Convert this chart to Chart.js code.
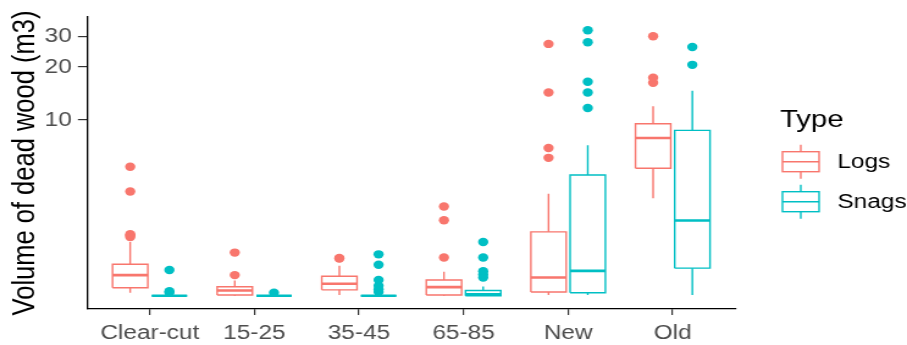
<!DOCTYPE html>
<html>
<head>
<meta charset="utf-8">
<style>
  html, body { margin: 0; padding: 0; background: #fff; overflow: hidden; }
</style>
</head>
<body>
<!-- the reference is stretched sideways, so the canvas is drawn narrower and scaled up by css -->
<canvas id="chart" width="743" height="345" style="width:907px;height:345px"></canvas>

<script src="https://cdn.jsdelivr.net/npm/chart.js"></script>

<script>
  const CATEGORIES = ['Clear-cut', '15-25', '35-45', '65-85', 'New', 'Old'];
  const TYPES = ['Logs', 'Snags'];
  const Y_TICKS = [10, 20, 30];

  // box stats (m3, log axis)
  const LOGS_LOW  = [1.04, 1.00, 1.01, 1.00, 1.01, 3.59];
  const LOGS_Q1   = [1.11, 1.01, 1.08, 1.01, 1.05, 5.31];
  const LOGS_MED  = [1.31, 1.07, 1.17, 1.12, 1.27, 7.90];
  const LOGS_Q3   = [1.51, 1.125, 1.29, 1.23, 2.31, 9.52];
  const LOGS_HIGH = [2.02, 1.22, 1.48, 1.37, 3.80, 11.96];
  const LOGS_OUT  = [
    [2.16, 2.20, 2.24, 3.92, 5.42],
    [1.31, 1.76],
    [1.63, 1.64],
    [1.65, 2.69, 3.22],
    [6.09, 6.93, 14.35, 27.1],
    [16.3, 17.4, 29.96]
  ];

  const SNAGS_LOW  = [1.00, 1.00, 1.00, 1.00, 1.01, 1.01];
  const SNAGS_Q1   = [1.00, 1.00, 1.00, 1.00, 1.04, 1.435];
  const SNAGS_MED  = [1.00, 1.00, 1.00, 1.02, 1.385, 2.68];
  const SNAGS_Q3   = [1.00, 1.00, 1.00, 1.07, 4.86, 8.73];
  const SNAGS_HIGH = [1.00, 1.00, 1.00, 1.13, 7.18, 14.67];
  const SNAGS_OUT  = [
    [1.04, 1.06, 1.40],
    [1.04],
    [1.05, 1.09, 1.14, 1.23, 1.50, 1.72],
    [1.27, 1.32, 1.38, 1.65, 2.02],
    [11.7, 14.35, 16.5, 27.7, 32.4],
    [20.6, 26.0]
  ];

  const LOGS_COLOR = '#F8766D';
  const SNAGS_COLOR = '#00BFC4';
  const FONT = '"Liberation Sans", Arial, sans-serif';
  const DODGE = 0.1875;   // ggplot dodge 0.75 / 4
  const HALF = 0.16875;   // half box width

  function box_datasets(name, color, offset, low, q1, med, q3, high, out) {
    const box = [], whisk = [], mid = [], pts = [];
    CATEGORIES.forEach((c, i) => {
      const xc = i + 1 + offset, xl = xc - HALF, xr = xc + HALF;
      box.push({x: xl, y: q1[i]}, {x: xl, y: q3[i]}, {x: xr, y: q3[i]}, {x: xr, y: q1[i]}, {x: xl, y: q1[i]}, {x: xc, y: null});
      whisk.push({x: xc, y: q3[i]}, {x: xc, y: high[i]}, {x: xc, y: null}, {x: xc, y: q1[i]}, {x: xc, y: low[i]}, {x: xc, y: null});
      mid.push({x: xl, y: med[i]}, {x: xr, y: med[i]}, {x: xc, y: null});
      out[i].forEach(v => pts.push({x: xc, y: v}));
    });
    const line = {showLine: true, pointRadius: 0, borderColor: color, fill: false, spanGaps: false};
    return [
      {...line, label: name + ' whiskers', data: whisk, borderWidth: 1.4},
      {...line, label: name + ' box', data: box, borderWidth: 1.4, borderJoinStyle: 'miter'},
      {...line, label: name + ' median', data: mid, borderWidth: 2.6},
      {label: name + ' outliers', data: pts, showLine: false, pointRadius: 4.2,
       pointBackgroundColor: color, pointBorderWidth: 0, backgroundColor: color}
    ];
  }

  // y limits: data range widened 5% on the log scale, like ggplot
  const all_values = [LOGS_LOW, LOGS_HIGH, SNAGS_LOW, SNAGS_HIGH, LOGS_OUT.flat(), SNAGS_OUT.flat()].flat();
  const lmin = Math.log(Math.min(...all_values));
  const lmax = Math.log(Math.max(...all_values));
  const y_min = Math.exp(lmin - 0.05 * (lmax - lmin));
  const y_max = Math.exp(lmax + 0.05 * (lmax - lmin));

  const legend_plugin = {
    id: 'typeLegend',
    afterDraw(chart) {
      const ctx = chart.ctx;
      ctx.save();
      ctx.fillStyle = '#000';
      ctx.font = '24px ' + FONT;
      ctx.textBaseline = 'alphabetic';
      ctx.fillText('Type', 639, 127);
      [[TYPES[0], LOGS_COLOR, 161.7], [TYPES[1], SNAGS_COLOR, 201.7]].forEach(([name, color, c]) => {
        ctx.strokeStyle = color;
        ctx.lineWidth = 1.4;
        ctx.strokeRect(641, c - 10, 30, 20);
        ctx.beginPath();
        ctx.moveTo(656, c - 17); ctx.lineTo(656, c - 10);
        ctx.moveTo(656, c + 10); ctx.lineTo(656, c + 17);
        ctx.moveTo(641, c); ctx.lineTo(671, c);
        ctx.stroke();
        ctx.fillStyle = '#000';
        ctx.font = '20px ' + FONT;
        ctx.textBaseline = 'middle';
        ctx.fillText(name, 686, c + 1);
      });
      ctx.restore();
    }
  };

  new Chart(document.getElementById('chart'), {
    type: 'scatter',
    data: {
      datasets: [
        ...box_datasets(TYPES[0], LOGS_COLOR, -DODGE, LOGS_LOW, LOGS_Q1, LOGS_MED, LOGS_Q3, LOGS_HIGH, LOGS_OUT),
        ...box_datasets(TYPES[1], SNAGS_COLOR, DODGE, SNAGS_LOW, SNAGS_Q1, SNAGS_MED, SNAGS_Q3, SNAGS_HIGH, SNAGS_OUT)
      ]
    },
    options: {
      responsive: false,
      animation: false,
      events: [],
      layout: { padding: { top: 15, right: 140.5, left: 0, bottom: 0 } },
      plugins: { legend: { display: false }, tooltip: { enabled: false } },
      scales: {
        x: {
          type: 'linear',
          min: 0.4,
          max: 6.6,
          bounds: 'data',
          afterBuildTicks: s => { s.ticks = CATEGORIES.map((c, i) => ({value: i + 1})); },
          afterFit: s => { s.height = 36; },
          border: { display: true, color: '#000', width: 1.3 },
          grid: { display: true, drawOnChartArea: false, drawTicks: true, tickLength: 6, color: '#333', lineWidth: 1.2 },
          ticks: {
            autoSkip: false, maxRotation: 0, padding: 6, color: '#4D4D4D',
            font: { family: FONT, size: 20 },
            callback: v => CATEGORIES[Math.round(v) - 1] || ''
          }
        },
        y: {
          type: 'logarithmic',
          min: y_min,
          max: y_max,
          bounds: 'data',
          afterBuildTicks: s => { s.ticks = Y_TICKS.map(v => ({value: v})); },
          afterFit: s => { s.width = 71.3; },
          border: { display: true, color: '#000', width: 1.3 },
          grid: { display: true, drawOnChartArea: false, drawTicks: true, tickLength: 7.5, color: '#333', lineWidth: 1.2 },
          ticks: {
            padding: 5, color: '#4D4D4D',
            font: { family: FONT, size: 20 },
            callback: v => String(v)
          },
          title: {
            display: true, text: 'Volume of dead wood (m3)', color: '#000',
            font: { family: FONT, size: 25.5 }, padding: { top: 5.2, bottom: 0 }
          }
        }
      }
    },
    plugins: [legend_plugin]
  });
</script>
</body>
</html>
